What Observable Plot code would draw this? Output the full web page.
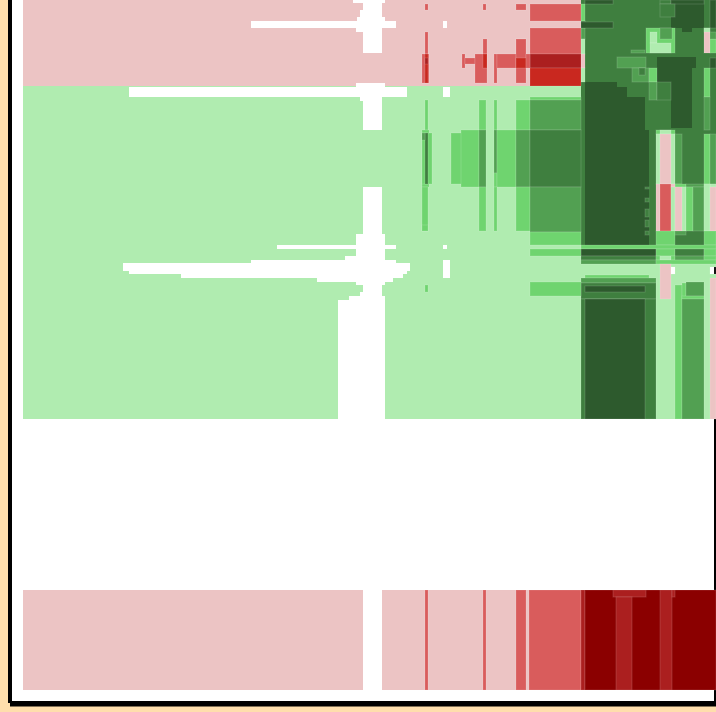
<!DOCTYPE html>
<html><head><meta charset="utf-8">
<script src="https://cdn.jsdelivr.net/npm/d3@7"></script>
<script src="https://cdn.jsdelivr.net/npm/@observablehq/plot@0.6"></script>
<style>html,body{margin:0;padding:0;background:#ffdeac;overflow:hidden}svg{display:block}</style>
</head><body><div id="c"></div>
<script>
// Each cell: [x1, x2, y1, y2, level]; levels: W blank, R1-R5 red ramp, G1-G5 green ramp, K frame
const levels = ["K","W","R1","R2","R3","R4","R5","G1","G2","G3","G4","G5"];
const levelColors = ["#000000","#ffffff","#ecc4c4","#d95c5c","#c9281f","#ab1f1f","#8b0000","#b0ecb0","#6fd46f","#52a052","#3f7f3f","#2d5a2d"];
const frame = [[8,12,-5,703,"K"],[10,716,701,706.5,"K"],[714,716,-5,706,"K"],[12,714,-5,701,"W"]];
const baseCells = [[23,581,0,86,"R1"],[23,581,86,419,"G1"],[23,581,590,690,"R1"],[581,716,0,245,"G4"],[581,716,245,419,"G1"]];
const blanks = [
 [353,385,0,3,"W"],[363,382,3,10,"W"],[360,382,10,17,"W"],[357,385,17,21,"W"],[251,396,21,28,"W"],[356,382,28,32,"W"],[363,382,32,53,"W"],
 [443,447,21,28,"W"],[356,385,83,87,"W"],[129,407,87,97,"W"],[360,382,97,101,"W"],[363,382,101,130,"W"],[443,450,87,97,"W"],
 [363,382,187,234,"W"],[356,385,234,260,"W"],[277,396,245,249,"W"],[345,385,256,260,"W"],[251,396,260,263,"W"],[123,410,263,271,"W"],
 [129,407,271,274,"W"],[181,403,274,278,"W"],[317,393,278,282,"W"],[356,385,282,285,"W"],[363,382,285,292,"W"],[360,382,292,296,"W"],
 [349,385,296,300,"W"],[338,385,300,419,"W"],[443,447,245,249,"W"],[443,450,260,278,"W"],[363,382,590,690,"W"]];
const darkBlocks = [
 [585,617,82,87,"G5"],[585,627,87,97,"G5"],[585,645,97,245,"G5"],[645,649,130,245,"G5"],
 [657,692,57,82,"G5"],[671,692,82,128,"G5"],[692,696,57,68,"G5"],
 [671,704,4,28,"G5"],[682,692,28,32,"G5"]];
const topReds = [
 [530,581,4,21,"R2"],[530,581,28,54,"R2"],[530,581,54,68,"R4"],[530,581,68,86,"R3"],
 [425,428,4,10,"R2"],[483,486,4,10,"R2"],[516,526,4,10,"R2"],[425,428,32,54,"R2"],[483,487,39,54,"R2"],[516,526,39,54,"R2"],
 [422,429,54,83,"R2"],[425,428,54,83,"R3"],[425,428,58,64,"R4"],[462,465,54,68,"R2"],[465,475,58,64,"R2"],[475,487,54,83,"R2"],[483,487,54,68,"R3"],
 [494,497,54,83,"R2"],[497,516,54,68,"R2"],[516,526,39,83,"R2"],[516,526,58,68,"R3"],[526,530,54,68,"R2"]];
const bottomReds = [
 [425,428,590,690,"R2"],[483,486,590,690,"R2"],[516,526,590,690,"R2"],[529,581,590,690,"R2"],[581,585,590,690,"R4"],[585,716,590,690,"R5"],
 [613,646,590,597,"R4"],[616,632,597,690,"R4"],[660,672,590,690,"R4"],[672,675,590,597,"R4"]];
const midGreens = [
 [530,581,97,100,"G2"],[425,428,100,130,"G2"],[479,486,100,130,"G2"],[494,497,100,130,"G2"],[516,530,100,130,"G2"],[530,581,100,130,"G3"],
 [422,429,130,187,"G2"],[422,432,133,184,"G2"],[425,428,133,184,"G4"],[422,425,133,140,"G3"],[451,479,133,184,"G2"],[461,479,130,187,"G2"],
 [479,486,130,187,"G3"],[494,497,130,173,"G3"],[494,497,173,187,"G2"],[497,516,130,187,"G2"],[516,530,130,187,"G3"],[530,581,130,187,"G4"],
 [422,428,187,231,"G2"],[479,486,187,231,"G2"],[494,497,187,231,"G2"],[516,530,187,231,"G2"],[530,581,187,232,"G3"],[530,581,232,245,"G2"],
 [422,428,225,231,"G2"],[530,581,249,256,"G2"],[530,581,282,296,"G2"],[425,428,285,292,"G2"]];
const rightTop = [
 [581,585,4,21,"G2"],[581,585,21,28,"G4"],[581,585,28,39,"G3"],[581,585,39,54,"G1"],[581,585,54,68,"R1"],[581,585,68,82,"G1"],
 [585,613,0,4,"G5"],[581,613,22,28,"G5"],[660,671,0,4,"G4"],[671,704,0,4,"G5"],[710,716,0,28,"G5"],
 [660,675,4,17,"G4"],
 [646,675,28,53,"G2"],[660,672,28,39,"G3"],[650,657,32,43,"G1"],[650,671,43,53,"G1"],[631,645,50,53,"G3"],
 [704,710,28,53,"R1"],[704,710,28,32,"G1"],[710,716,39,53,"G2"],[710,716,32,39,"G3"],
 [617,646,57,68,"G3"],[632,649,68,82,"G3"],[639,645,68,75,"G4"],[649,657,68,82,"G2"],[649,657,82,100,"G3"],[657,671,82,100,"G4"],
 [704,710,68,97,"G2"],[704,710,97,130,"G3"],[710,716,58,68,"G5"],
 [645,649,187,189,"G4"],[645,649,198,202,"G4"],[645,649,209,217,"G4"],[645,649,220,227,"G4"],[645,649,231,235,"G4"]];
const rightMid = [
 [656,675,130,134,"G2"],[660,671,130,134,"G1"],
 [656,660,134,184,"G1"],[660,671,134,184,"R1"],[671,675,134,184,"G1"],[675,682,134,184,"G3"],[704,710,134,184,"G2"],[710,716,134,184,"G3"],
 [675,686,184,187,"G2"],[686,704,184,187,"G3"],[710,716,184,187,"G1"],[656,660,184,231,"R1"],[660,671,184,231,"R2"],[671,675,184,187,"R1"],[671,675,187,231,"G1"],
 [675,682,187,231,"R1"],[682,686,187,231,"G1"],[686,693,187,231,"G2"],[693,704,187,231,"G3"],[704,710,184,231,"G1"],[710,716,187,231,"R1"],
 [656,675,231,245,"G2"],[675,686,231,235,"G3"],[704,716,231,245,"G2"],
 [581,716,245,249,"G2"],[581,656,249,256,"G5"],[656,675,249,256,"G2"],[675,704,249,256,"G4"],[704,716,249,256,"G2"],
 [581,656,256,260,"G4"],[656,660,256,260,"G2"],[660,671,256,260,"G1"],[671,675,256,260,"G2"],[675,704,256,260,"G3"],[704,716,256,260,"G2"],
 [581,656,260,264,"G3"],[656,716,260,264,"G2"],
 [660,671,264,299,"R1"],[671,675,267,274,"W"],[710,714,267,274,"W"],[714,716,267,274,"K"],
 [585,649,275,278,"G2"],[581,656,278,283,"G3"],[581,656,283,299,"G4"],[585,645,286,292,"G5"],
 [581,656,299,419,"G4"],[585,645,299,419,"G5"],
 [675,682,285,419,"G2"],[682,686,283,299,"G2"],[686,704,282,296,"G3"],[682,704,296,299,"G2"],[682,704,299,419,"G3"],[710,716,278,419,"R1"]];
const plain = [...frame, ...baseCells, ...blanks, ...darkBlocks];
const cells = [...rightTop, ...rightMid, ...topReds, ...bottomReds, ...midGreens];
const row = a => ({x1:a[0],x2:a[1],y1:a[2],y2:a[3],level:a[4]});
const chart = Plot.plot({
  width:716,height:712,margin:0,style:{background:"transparent"},
  x:{domain:[0,716],range:[0,716],axis:null},
  y:{domain:[0,712],range:[0,712],axis:null},
  color:{type:"ordinal",domain:levels,range:levelColors},
  marks:[
    Plot.rect(plain.map(row),{x1:"x1",x2:"x2",y1:"y1",y2:"y2",fill:"level",inset:0}),
    Plot.rect(cells.map(row),{x1:"x1",x2:"x2",y1:"y1",y2:"y2",fill:"level",inset:0,stroke:"white",strokeOpacity:0.14,strokeWidth:1})
  ]
});
document.getElementById("c").appendChild(chart);
</script></body></html>
